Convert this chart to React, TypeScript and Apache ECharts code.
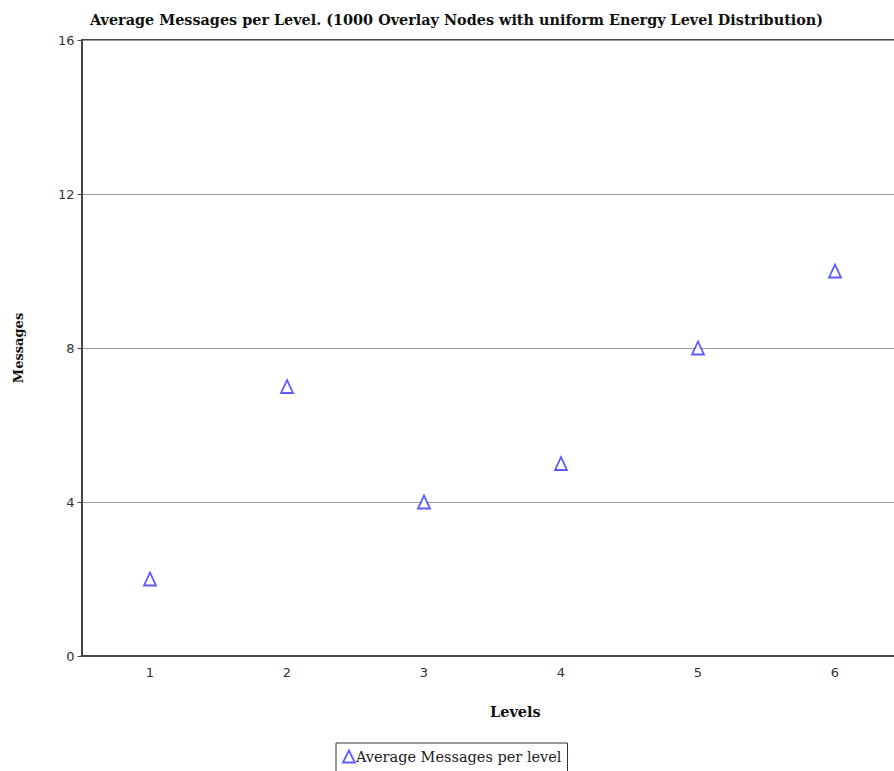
import React, { useEffect, useRef } from "react";
import * as echarts from "echarts";

const levels = ["1", "2", "3", "4", "5", "6"];
const avgMessages = [2, 7, 4, 5, 8, 10];
const yTicks = { min: 0, max: 16, interval: 4 };

export default function App() {
  const ref = useRef<HTMLDivElement>(null);
  useEffect(() => {
    document.body.style.margin = "0";
    const chart = echarts.init(ref.current!, undefined, { renderer: "svg" });
    const serif = "DejaVu Serif";
    chart.setOption({
      animation: false,
      backgroundColor: "#ffffff",
      title: {
        text: "Average Messages per Level. (1000 Overlay Nodes with uniform Energy Level Distribution)",
        left: 85,
        top: 7,
        textStyle: { fontFamily: serif, fontWeight: "bold", fontSize: 14.4, color: "#111" },
      },
      grid: { left: 81.5, right: 8.5, top: 40, bottom: 115 },
      xAxis: {
        type: "category",
        data: levels,
        boundaryGap: true,
        axisLine: { lineStyle: { color: "#444", width: 2 } },
        axisTick: { alignWithLabel: true, length: 4, lineStyle: { color: "#444" } },
        axisLabel: { fontFamily: "DejaVu Sans", fontSize: 13, color: "#333", margin: 10 },
        splitLine: { show: false },
      },
      yAxis: {
        type: "value",
        min: yTicks.min,
        max: yTicks.max,
        interval: yTicks.interval,
        name: "Messages",
        nameLocation: "middle",
        nameGap: 57,
        nameTextStyle: { fontFamily: serif, fontWeight: "bold", fontSize: 13, color: "#111" },
        axisLine: { show: true, lineStyle: { color: "#444", width: 2 } },
        axisTick: { show: true, length: 4, lineStyle: { color: "#444" } },
        axisLabel: { fontFamily: "DejaVu Sans", fontSize: 13, color: "#333", margin: 7 },
        splitLine: { show: true, lineStyle: { color: "#999", width: 1 } },
      },
      legend: {
        bottom: -3,
        left: 336,
        data: ["Average Messages per level"],
        icon: "triangle",
        itemWidth: 12,
        itemHeight: 12,
        itemGap: 2,
        padding: [6, 6, 10, 6],
        borderColor: "#333",
        borderWidth: 1,
        borderRadius: 0,
        textStyle: { fontFamily: serif, fontSize: 14.5, color: "#222", padding: [0, 0, 0, -4] },
        itemStyle: { color: "#ffffff", borderColor: "#3333ff", borderWidth: 1.8 },
      },
      graphic: [
        {
          type: "rect",
          shape: { x: 81.5, y: 40, width: 830, height: 0 },
          style: { stroke: "#444", lineWidth: 2 },
        },
        {
          type: "text",
          left: 490,
          top: 704,
          style: { text: "Levels", font: "bold 14.5px 'DejaVu Serif'", fill: "#111" },
        },
      ],
      series: [
        {
          name: "Average Messages per level",
          type: "scatter",
          data: avgMessages,
          symbol: "triangle",
          symbolSize: [12, 13],
          itemStyle: { color: "#ffffff", borderColor: "#3333ff", borderWidth: 1.8 },
          z: 5,
        },
      ],
    });
    return () => chart.dispose();
  }, []);
  return (
    <div style={{ width: 894, height: 771, overflow: "hidden" }}>
      <div ref={ref} style={{ width: 912, height: 771 }} />
    </div>
  );
}
